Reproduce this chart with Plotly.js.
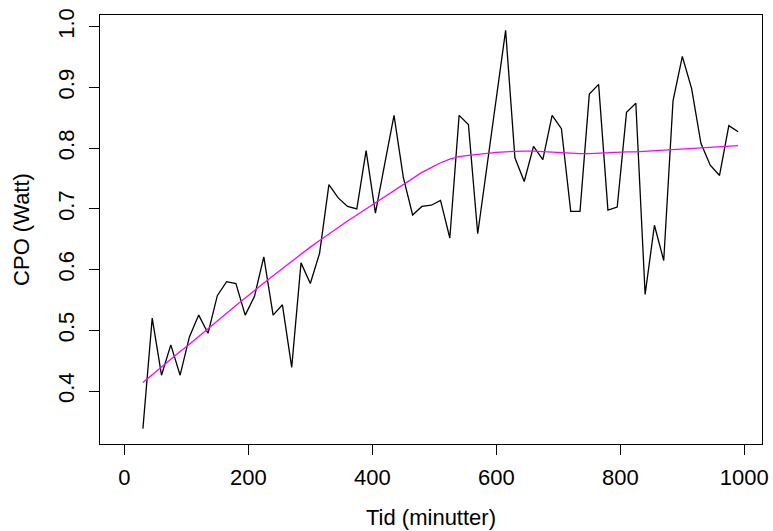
<!DOCTYPE html>
<html>
<head>
<meta charset="utf-8">
<script src="https://cdn.plot.ly/plotly-3.0.1.min.js"></script>
<style>html,body{margin:0;padding:0;background:#fff;}#chart{width:773px;height:531px;}</style>
</head>
<body>
<div id="chart"></div>
<script>
// Time in minutes
const tid = [30,45,60,75,90,105,120,135,150,165,180,195,210,225,240,255,270,285,300,315,330,345,360,375,390,405,420,435,450,465,480,495,510,525,540,555,570,585,600,615,630,645,660,675,690,705,720,735,750,765,780,795,810,825,840,855,870,885,900,915,930,945,960,975,990];
// Observed CPO (Watt)
const cpo = [0.338,0.520,0.426,0.476,0.426,0.489,0.525,0.495,0.557,0.580,0.577,0.525,0.556,0.621,0.525,0.542,0.439,0.611,0.577,0.627,0.740,0.718,0.704,0.700,0.796,0.693,0.774,0.854,0.752,0.690,0.704,0.706,0.714,0.652,0.854,0.839,0.659,0.772,0.885,0.994,0.784,0.745,0.803,0.781,0.854,0.832,0.696,0.696,0.889,0.905,0.698,0.703,0.859,0.874,0.559,0.673,0.615,0.878,0.951,0.898,0.808,0.772,0.755,0.837,0.827];
// Smoothed CPO (magenta curve)
const smooth = [0.414,0.427,0.439,0.452,0.465,0.477,0.490,0.503,0.515,0.528,0.541,0.553,0.566,0.578,0.590,0.602,0.614,0.626,0.637,0.648,0.659,0.670,0.680,0.690,0.700,0.710,0.720,0.731,0.741,0.751,0.760,0.768,0.776,0.782,0.786,0.788,0.790,0.792,0.793,0.794,0.795,0.795,0.795,0.794,0.793,0.792,0.791,0.791,0.791,0.792,0.792,0.793,0.794,0.794,0.795,0.795,0.796,0.797,0.798,0.799,0.800,0.801,0.802,0.803,0.804];
const xTicks = [0,200,400,600,800,1000];
const yTicks = [0.4,0.5,0.6,0.7,0.8,0.9,1.0];

const font = {family: '"Liberation Sans", Arial, Helvetica, sans-serif', size: 22, color: '#000'};

const traces = [
  {x: tid, y: cpo, type: 'scatter', mode: 'lines', line: {color: '#000', width: 1.3}, hoverinfo: 'skip'},
  {x: tid, y: smooth, type: 'scatter', mode: 'lines', line: {color: '#FF00FF', width: 1.3}, hoverinfo: 'skip'}
];

const layout = {
  width: 773, height: 531,
  margin: {l: 100, r: 11, t: 15, b: 87},
  paper_bgcolor: '#fff', plot_bgcolor: '#fff',
  showlegend: false,
  font: font,
  xaxis: {
    range: [-39.2, 1028.5],
    tickmode: 'array', tickvals: xTicks, ticktext: xTicks.map(String),
    ticks: 'outside', ticklen: 10, tickwidth: 1, tickcolor: '#000',
    ticklabelstandoff: 4,
    showline: true, mirror: true, linecolor: '#000', linewidth: 1,
    showgrid: false, zeroline: false,
    tickfont: font,
    title: {text: 'Tid (minutter)', font: font, standoff: 20},
    automargin: false
  },
  yaxis: {
    range: [0.3127, 1.0193],
    tickmode: 'array', tickvals: yTicks, ticktext: yTicks.map(v => v.toFixed(1)),
    tickangle: -90,
    ticks: 'outside', ticklen: 10, tickwidth: 1, tickcolor: '#000',
    ticklabelstandoff: 6,
    showline: true, mirror: true, linecolor: '#000', linewidth: 1,
    showgrid: false, zeroline: false,
    tickfont: font,
    title: {text: 'CPO (Watt)', font: font, standoff: 18},
    automargin: false
  }
};

Plotly.newPlot('chart', traces, layout, {staticPlot: true, displayModeBar: false});
</script>
</body>
</html>
